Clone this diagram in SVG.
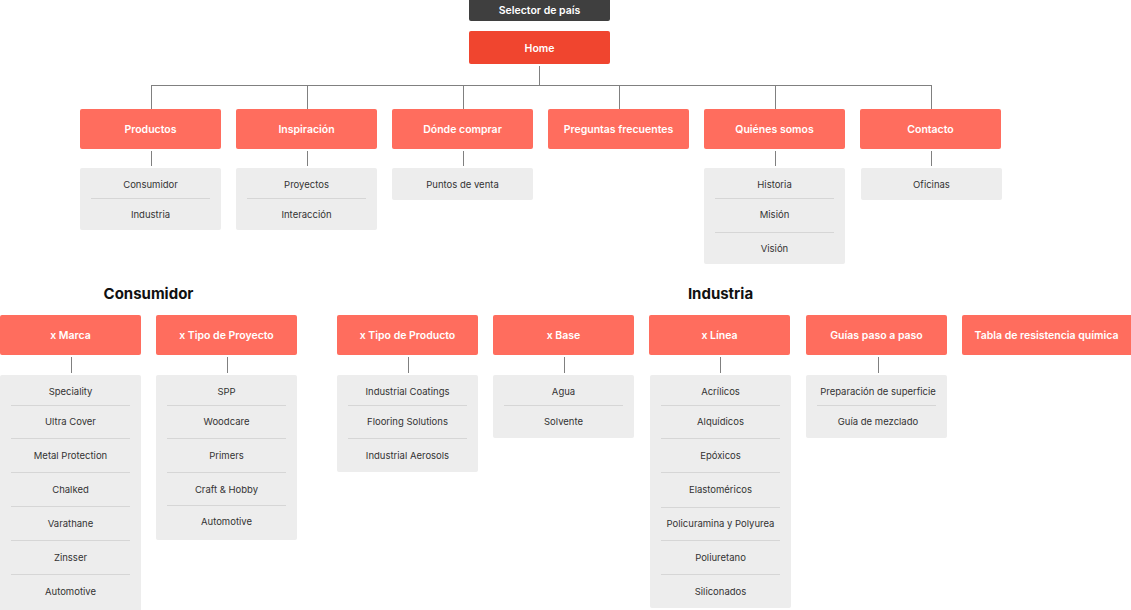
<svg xmlns="http://www.w3.org/2000/svg" width="1131" height="610" viewBox="0 0 1131 610">
<style>
.bg{fill:#ffffff}
.n{fill:#ff6d5e}
.home{fill:#f0452f}
.sel{fill:#3f3f3f}
.nt{fill:#ffffff;font-family:Inter,"Open Sans","Liberation Sans",sans-serif;font-size:10.5px;font-weight:600;text-anchor:middle;dominant-baseline:central}
.s{fill:#ededed}
.st{fill:#333333;font-family:Inter,"Open Sans","Liberation Sans",sans-serif;font-size:9.5px;font-weight:400;text-anchor:middle;dominant-baseline:central}
.d{stroke:#d6d6d6;stroke-width:1}
.c{stroke:#808080;stroke-width:1;fill:none}
.h{fill:#111111;font-family:Inter,"Open Sans","Liberation Sans",sans-serif;font-size:15px;font-weight:700;text-anchor:middle;dominant-baseline:central}
</style>
<rect class="bg" x="0" y="0" width="1131" height="610"/>
<g id="connectors">
<path class="c" d="M539.5 66V85.5M151 85.5H931.5M151.5 85V109M307.5 85V109M463.5 85V109M619.5 85V109M775.5 85V109M931.5 85V109"/>
<path class="c" d="M151.5 151V166M307.5 151V166M463.5 151V166M775.5 151V166M931.5 151V166"/>
<path class="c" d="M71.5 357V373M227.5 357V373M408.5 357V373M564.5 357V373M720.5 357V373M878.5 357V373"/>
</g>
<g id="selector"><rect class="sel" x="469" y="-3" width="141" height="24" rx="2"/><text class="nt" x="539.5" y="10">Selector de país</text></g>
<g id="home"><rect class="home" x="469" y="31" width="141" height="33" rx="2"/><text class="nt" x="539.5" y="48">Home</text></g>

<g id="productos"><rect class="n" x="80" y="109" width="141" height="40" rx="2"/><text class="nt" x="150.5" y="129">Productos</text>
<rect class="s" x="80" y="168" width="141" height="62" rx="2"/><line class="d" x1="91" y1="198.5" x2="210" y2="198.5"/>
<text class="st" x="150.5" y="184">Consumidor</text><text class="st" x="150.5" y="214">Industria</text></g>

<g id="inspiracion"><rect class="n" x="236" y="109" width="141" height="40" rx="2"/><text class="nt" x="306.5" y="129">Inspiración</text>
<rect class="s" x="236" y="168" width="141" height="62" rx="2"/><line class="d" x1="247" y1="198.5" x2="366" y2="198.5"/>
<text class="st" x="306.5" y="184">Proyectos</text><text class="st" x="306.5" y="214">Interacción</text></g>

<g id="donde"><rect class="n" x="392" y="109" width="141" height="40" rx="2"/><text class="nt" x="462.5" y="129">Dónde comprar</text>
<rect class="s" x="392" y="168" width="141" height="32" rx="2"/>
<text class="st" x="462.5" y="184">Puntos de venta</text></g>

<g id="preguntas"><rect class="n" x="548" y="109" width="141" height="40" rx="2"/><text class="nt" x="618.5" y="129">Preguntas frecuentes</text></g>

<g id="quienes"><rect class="n" x="704" y="109" width="141" height="40" rx="2"/><text class="nt" x="774.5" y="129">Quiénes somos</text>
<rect class="s" x="704" y="168" width="141" height="96" rx="2"/><line class="d" x1="715" y1="198.5" x2="834" y2="198.5"/><line class="d" x1="715" y1="232.5" x2="834" y2="232.5"/>
<text class="st" x="774.5" y="184">Historia</text><text class="st" x="774.5" y="214">Misión</text><text class="st" x="774.5" y="248">Visión</text></g>

<g id="contacto"><rect class="n" x="860" y="109" width="141" height="40" rx="2"/><text class="nt" x="930.5" y="129">Contacto</text>
<rect class="s" x="861" y="168" width="141" height="32" rx="2"/>
<text class="st" x="931.5" y="184">Oficinas</text></g>

<g id="titulo-consumidor"><text class="h" x="148.5" y="293">Consumidor</text></g>
<g id="titulo-industria"><text class="h" x="720.5" y="293">Industria</text></g>

<g id="marca"><rect class="n" x="0" y="315" width="141" height="40" rx="2"/><text class="nt" x="70.5" y="335">x Marca</text>
<rect class="s" x="0" y="375" width="141" height="240" rx="2"/>
<path class="d" d="M11 405.5H130M11 438.5H130M11 472.5H130M11 506.5H130M11 540.5H130M11 574.5H130"/>
<text class="st" x="70.5" y="391">Speciality</text><text class="st" x="70.5" y="421">Ultra Cover</text><text class="st" x="70.5" y="455">Metal Protection</text><text class="st" x="70.5" y="489">Chalked</text><text class="st" x="70.5" y="523">Varathane</text><text class="st" x="70.5" y="557">Zinsser</text><text class="st" x="70.5" y="591">Automotive</text></g>

<g id="tipo-proyecto"><rect class="n" x="156" y="315" width="141" height="40" rx="2"/><text class="nt" x="226.5" y="335">x Tipo de Proyecto</text>
<rect class="s" x="156" y="375" width="141" height="165" rx="2"/>
<path class="d" d="M167 405.5H286M167 438.5H286M167 472.5H286M167 505.5H286"/>
<text class="st" x="226.5" y="391">SPP</text><text class="st" x="226.5" y="421">Woodcare</text><text class="st" x="226.5" y="455">Primers</text><text class="st" x="226.5" y="489">Craft &amp; Hobby</text><text class="st" x="226.5" y="521">Automotive</text></g>

<g id="tipo-producto"><rect class="n" x="337" y="315" width="141" height="40" rx="2"/><text class="nt" x="407.5" y="335">x Tipo de Producto</text>
<rect class="s" x="337" y="375" width="141" height="97" rx="2"/>
<path class="d" d="M348 405.5H467M348 438.5H467"/>
<text class="st" x="407.5" y="391">Industrial Coatings</text><text class="st" x="407.5" y="421">Flooring Solutions</text><text class="st" x="407.5" y="455">Industrial Aerosols</text></g>

<g id="base"><rect class="n" x="493" y="315" width="141" height="40" rx="2"/><text class="nt" x="563.5" y="335">x Base</text>
<rect class="s" x="493" y="375" width="141" height="63" rx="2"/>
<path class="d" d="M504 405.5H623"/>
<text class="st" x="563.5" y="391">Agua</text><text class="st" x="563.5" y="421">Solvente</text></g>

<g id="linea"><rect class="n" x="649" y="315" width="141" height="40" rx="2"/><text class="nt" x="719.5" y="335">x Línea</text>
<rect class="s" x="650" y="375" width="141" height="233" rx="2"/>
<path class="d" d="M661 405.5H780M661 438.5H780M661 472.5H780M661 507.5H780M661 540.5H780M661 574.5H780"/>
<text class="st" x="720.5" y="391">Acrílicos</text><text class="st" x="720.5" y="421">Alquídicos</text><text class="st" x="720.5" y="455">Epóxicos</text><text class="st" x="720.5" y="489">Elastoméricos</text><text class="st" x="720.5" y="523">Policuramina y Polyurea</text><text class="st" x="720.5" y="557">Poliuretano</text><text class="st" x="720.5" y="591">Siliconados</text></g>

<g id="guias"><rect class="n" x="806" y="315" width="141" height="40" rx="2"/><text class="nt" x="876.5" y="335">Guías paso a paso</text>
<rect class="s" x="806" y="375" width="141" height="63" rx="2"/>
<path class="d" d="M817 405.5H936"/>
<text class="st" x="878" y="391">Preparación de superficie</text><text class="st" x="878" y="421">Guía de mezclado</text></g>

<g id="tabla"><rect class="n" x="962" y="315" width="172" height="40" rx="2"/><text class="nt" x="1046.5" y="335">Tabla de resistencia química</text></g>
</svg>
